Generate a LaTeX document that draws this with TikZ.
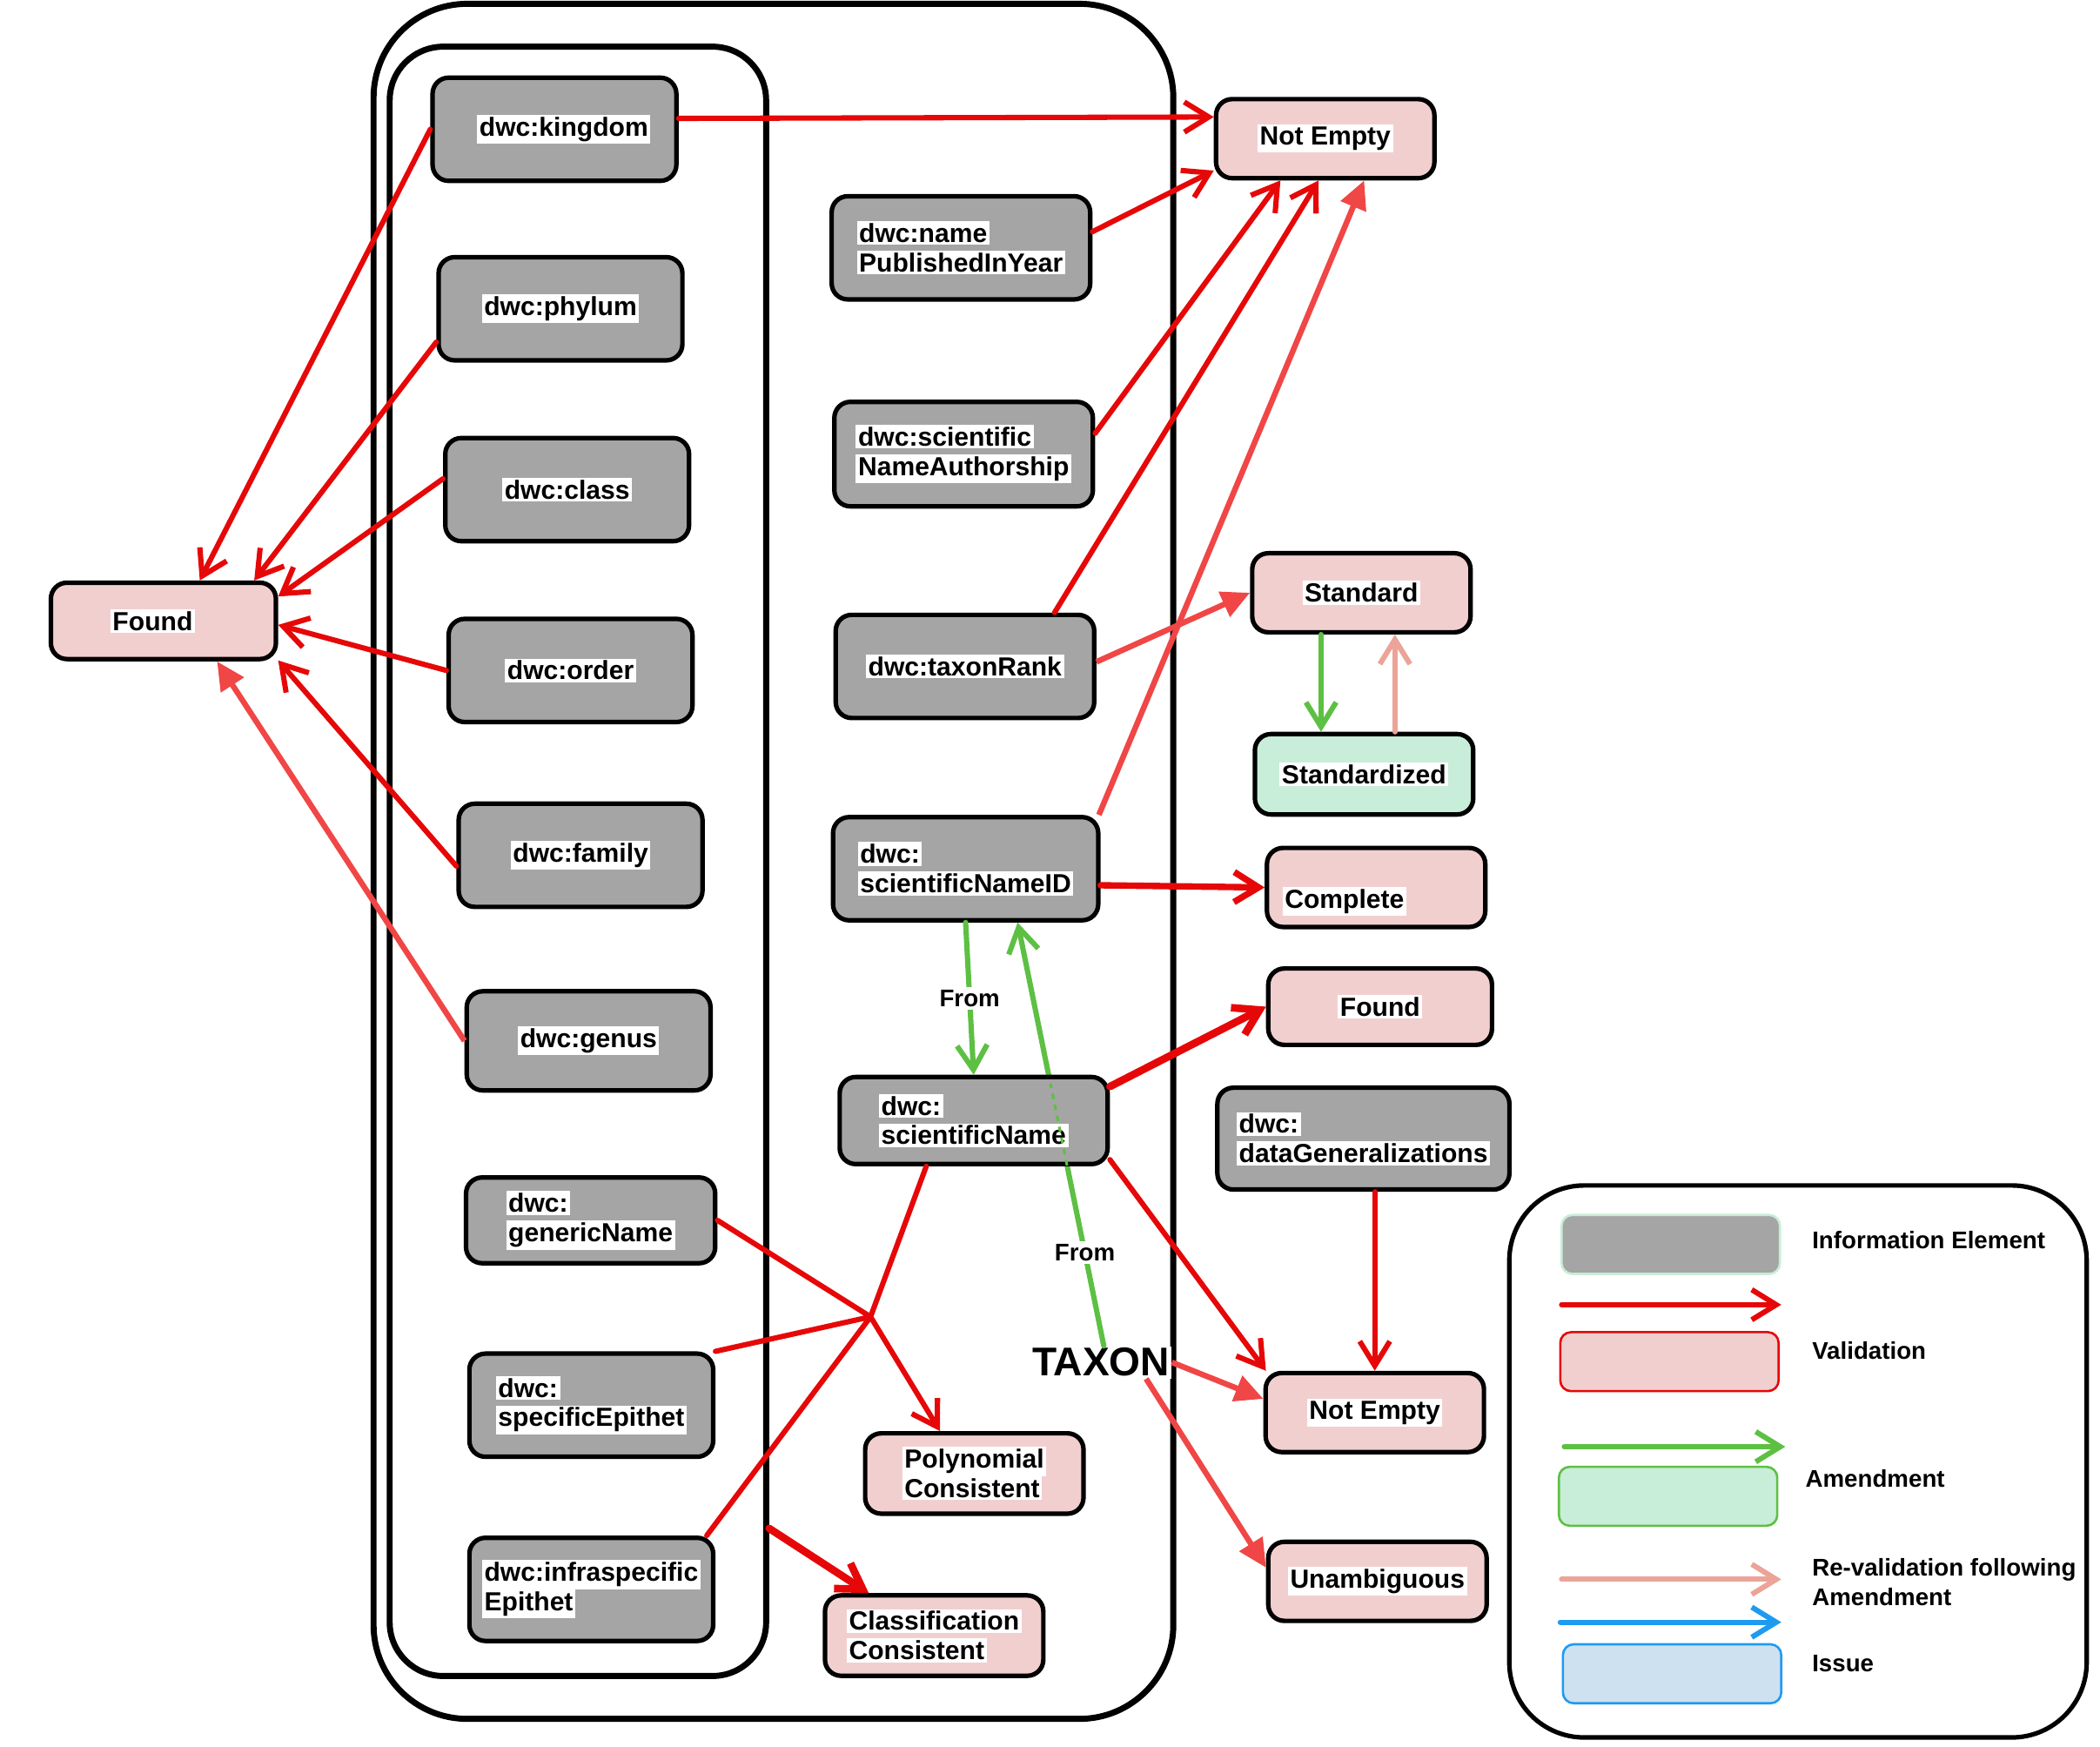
\documentclass[tikz,border=0pt]{standalone}
\usepackage{fontspec}
\setmainfont{Liberation Sans}
\usepackage{tikz}
\usetikzlibrary{arrows.meta,calc}
\definecolor{elemgray}{RGB}{165,165,165}
\definecolor{checkpink}{RGB}{242,207,207}
\definecolor{amendgreen}{RGB}{200,237,216}
\definecolor{issueblue}{RGB}{205,225,240}
\definecolor{valred}{RGB}{230,8,8}
\definecolor{softred}{RGB}{240,70,70}
\definecolor{arrgreen}{RGB}{93,192,67}
\definecolor{revalpink}{RGB}{235,164,151}
\definecolor{arrblue}{RGB}{30,155,240}
\newcommand{\halo}[1]{{\setlength{\fboxsep}{1.2pt}\colorbox{white}{#1}}}

\tikzset{
  box/.style={draw=black, line width=2.4pt, rounded corners=0.3cm, align=left, inner sep=2pt,
    font=\bfseries\fontsize{13.9}{15.6}\selectfont, minimum width=4.075cm, minimum height=1.475cm},
  elem/.style={box, fill=elemgray, minimum width=4.55cm, minimum height=1.925cm},
  check/.style={box, fill=checkpink},
  amended/.style={box, fill=amendgreen},
  valid/.style={valred, line width=2.8pt, line cap=round, -{Straight Barb[length=13pt,width=16pt]}},
  validsoft/.style={softred, line width=3pt, -{Triangle[length=15pt,width=14pt]}},
  amend/.style={arrgreen, line width=2.8pt, line cap=round, -{Straight Barb[length=13pt,width=16pt]}},
  reval/.style={revalpink, line width=2.8pt, line cap=round, -{Straight Barb[length=13pt,width=16pt]}},
  issue/.style={arrblue, line width=2.8pt, line cap=round, -{Straight Barb[length=13pt,width=16pt]}},
  fromlabel/.style={fill=white, text=black, inner sep=1.5pt, font=\bfseries\fontsize{12.8}{15}\selectfont},
  keybox/.style={rounded corners=0.2cm, line width=1.2pt, minimum width=4.075cm, minimum height=1.1cm},
  keytext/.style={anchor=west, align=left, inner sep=2pt, font=\bfseries\fontsize{12.8}{15.6}\selectfont},
}

\begin{document}
\begin{tikzpicture}[x=0.025cm, y=-0.025cm]
  \useasboundingbox (0,0) rectangle (1568,1304);

  % containers
  \node[draw, line width=3.2pt, rounded corners=1.75cm, minimum width=14.925cm, minimum height=32cm] (taxonbox) at (577.5,643) {};
  \node[draw, line width=3.2pt, rounded corners=1cm, minimum width=7.025cm, minimum height=30.4cm] (classbox) at (431.5,643) {};

  % classification terms
  \node[elem] (kingdom) at (414,96.5) {\hspace*{0.35cm}\halo{dwc:kingdom}};
  \node[elem] (phylum) at (418.5,230.5) {\halo{dwc:phylum}};
  \node[elem] (class) at (423.5,365.5) {\halo{dwc:class}};
  \node[elem] (order) at (426,500.5) {\halo{dwc:order}};
  \node[elem] (family) at (433.5,638.5) {\halo{dwc:family}};
  \node[elem, minimum height=1.85cm] (genus) at (439.5,777) {\halo{dwc:genus}};
  \node[elem, minimum width=4.65cm, minimum height=1.6cm] (generic) at (441,911) {\halo{dwc:}\\\halo{genericName}};
  \node[elem] (specific) at (441.5,1049) {\halo{dwc:}\\\halo{specificEpithet}};
  \node[elem] (infra) at (441.5,1186.5) {\halo{dwc:infraspecific}\\\halo{Epithet}};

  % name terms
  \node[elem, minimum width=4.825cm] (published) at (717.5,185) {\halo{dwc:name}\\\halo{PublishedInYear}};
  \node[elem, minimum width=4.825cm, minimum height=1.95cm] (authorship) at (719.5,339) {\halo{dwc:scientific}\\\halo{NameAuthorship}};
  \node[elem, minimum width=4.825cm] (rank) at (720.5,497.5) {\halo{dwc:taxonRank}};
  \node[elem, minimum width=4.95cm] (nameid) at (721,648.5) {\halo{dwc:}\\\halo{scientificNameID}};
  \node[check, minimum height=1.5cm] (polynomial) at (727.5,1100) {\halo{Polynomial}\\\halo{Consistent}};
  \node[check, minimum height=1.5cm] (classification) at (697.5,1221) {\halo{Classification}\\\halo{Consistent}};
  \node[fill=white, inner sep=1pt, font=\bfseries\fontsize{21.3}{24}\selectfont] (taxon) at (822,1017) {TAXON};

  % tests
  \node[check, minimum width=4.2cm, minimum height=1.425cm] (foundleft) at (122,463.5) {\halo{Found}\hspace*{0.4cm}};
  \node[check] (notempty) at (989.5,103.5) {\halo{Not Empty}};
  \node[check] (standard) at (1016.5,442.5) {\halo{Standard}};
  \node[amended, minimum height=1.5cm] (standardized) at (1018.5,578) {\halo{Standardized}};
  \node[check, text height=0.91cm, text depth=0.14cm] (complete) at (1027.5,662.5) {\halo{Complete}\hspace*{1.18cm}};
  \node[check, minimum width=4.175cm, minimum height=1.425cm] (foundright) at (1030.5,751.5) {\halo{Found}};
  \node[elem, minimum width=5.45cm, minimum height=1.9cm] (generalizations) at (1018,850) {\halo{dwc:}\\\halo{dataGeneralizations}};
  \node[check] (notemptytwo) at (1026.5,1054.5) {\halo{Not Empty}};
  \node[check] (unambiguous) at (1028.5,1180.5) {\halo{Unambiguous}};

  % runs behind scientificName
  \draw[amend] (taxon.80) -- node[fromlabel, pos=0.22] {From} (nameid.314);
  \node[elem, minimum width=5cm, minimum height=1.625cm] (sciname) at (727,836.5) {\halo{dwc:}\\\halo{scientificName}};
  \draw[arrgreen, line width=1.4pt, dashed] ($(taxon.80)!0.4!(nameid.314)$) -- ($(taxon.80)!0.62!(nameid.314)$);

  % validations
  \draw[valid] (kingdom.west) -- (foundleft.48);
  \draw[valid] (phylum.195) -- (foundleft.24);
  \draw[valid] (class.175) -- (foundleft.12);
  \draw[valid] (order.west) -- (foundleft.358);
  \draw[valid] (family.185) -- (foundleft.341);
  \draw[validsoft] (genus.west) -- (foundleft.323);
  \draw[valid] (kingdom.5) -- (notempty.169);
  \draw[valid] (published.7) -- (notempty.196);
  \draw[valid] (authorship.9) -- (notempty.223);
  \draw[valid] (rank.31) -- (notempty.261);
  \draw[validsoft] (nameid.22) -- (notempty.313);
  \draw[validsoft] (rank.2) -- (standard.west);
  \draw[valid, line width=3.4pt] (nameid.353) -- (complete.west);
  \draw[valid, line width=4pt] (sciname.14) -- (foundright.west);
  \draw[valid] (sciname.344) -- (notemptytwo.159);
  \draw[valid] (notemptytwo.north |- generalizations.south) -- (notemptytwo.north);
  \draw[validsoft] (taxon.east) -- (notemptytwo.173);
  \draw[validsoft] (taxon.340) -- (unambiguous.173);
  \coordinate (join) at (650,983);
  \draw[valred, line width=2.8pt, line cap=round]
    (generic.east) -- (join) (specific.north east) -- (join)
    (infra.25) -- (join) -- (sciname.224);
  \draw[valid] (join) -- (polynomial.129);
  \draw[valid, line width=4pt] (classbox.286) -- (classification.147);

  % amendments
  \draw[amend] (standard.226) -- (standard.226 |- standardized.north);
  \draw[reval] (standardized.54) -- (standardized.54 |- standard.south);
  \draw[amend] (nameid.south) -- node[fromlabel] {From} (sciname.north);

  % legend
  \node[draw, line width=2.4pt, rounded corners=1.4cm, minimum width=10.775cm, minimum height=10.3cm] (legend) at (1342.5,1091) {};
  \node[keybox, fill=elemgray, draw=amendgreen] (keyelem) at (1247.5,929) {};
  \node[keybox, fill=checkpink, draw=valred] (keyvalid) at (1246.5,1016.5) {};
  \node[keybox, fill=amendgreen, draw=arrgreen] (keyamend) at (1245.5,1117) {};
  \node[keybox, fill=issueblue, draw=arrblue] (keyissue) at (1248.5,1249.5) {};
  \coordinate (redtail) at (1166,974);
  \coordinate (redhead) at (1330,974);
  \coordinate (greentail) at (1168,1080);
  \coordinate (greenhead) at (1333,1080);
  \coordinate (revaltail) at (1166,1179);
  \coordinate (revalhead) at (1330,1179);
  \coordinate (bluetail) at (1165,1211);
  \coordinate (bluehead) at (1330,1211);
  \draw[valid] (redtail) -- (redhead);
  \draw[amend] (greentail) -- (greenhead);
  \draw[reval] (revaltail) -- (revalhead);
  \draw[issue] (bluetail) -- (bluehead);
  \node[keytext] (txtelem) at (1350,926) {Information Element};
  \node[keytext] (txtvalid) at (1350,1008) {Validation};
  \node[keytext] (txtamend) at (1345,1104) {Amendment};
  \node[keytext] (txtreval) at (1350,1181) {Re-validation following\\Amendment};
  \node[keytext] (txtissue) at (1350,1242) {Issue};
\end{tikzpicture}
\end{document}
